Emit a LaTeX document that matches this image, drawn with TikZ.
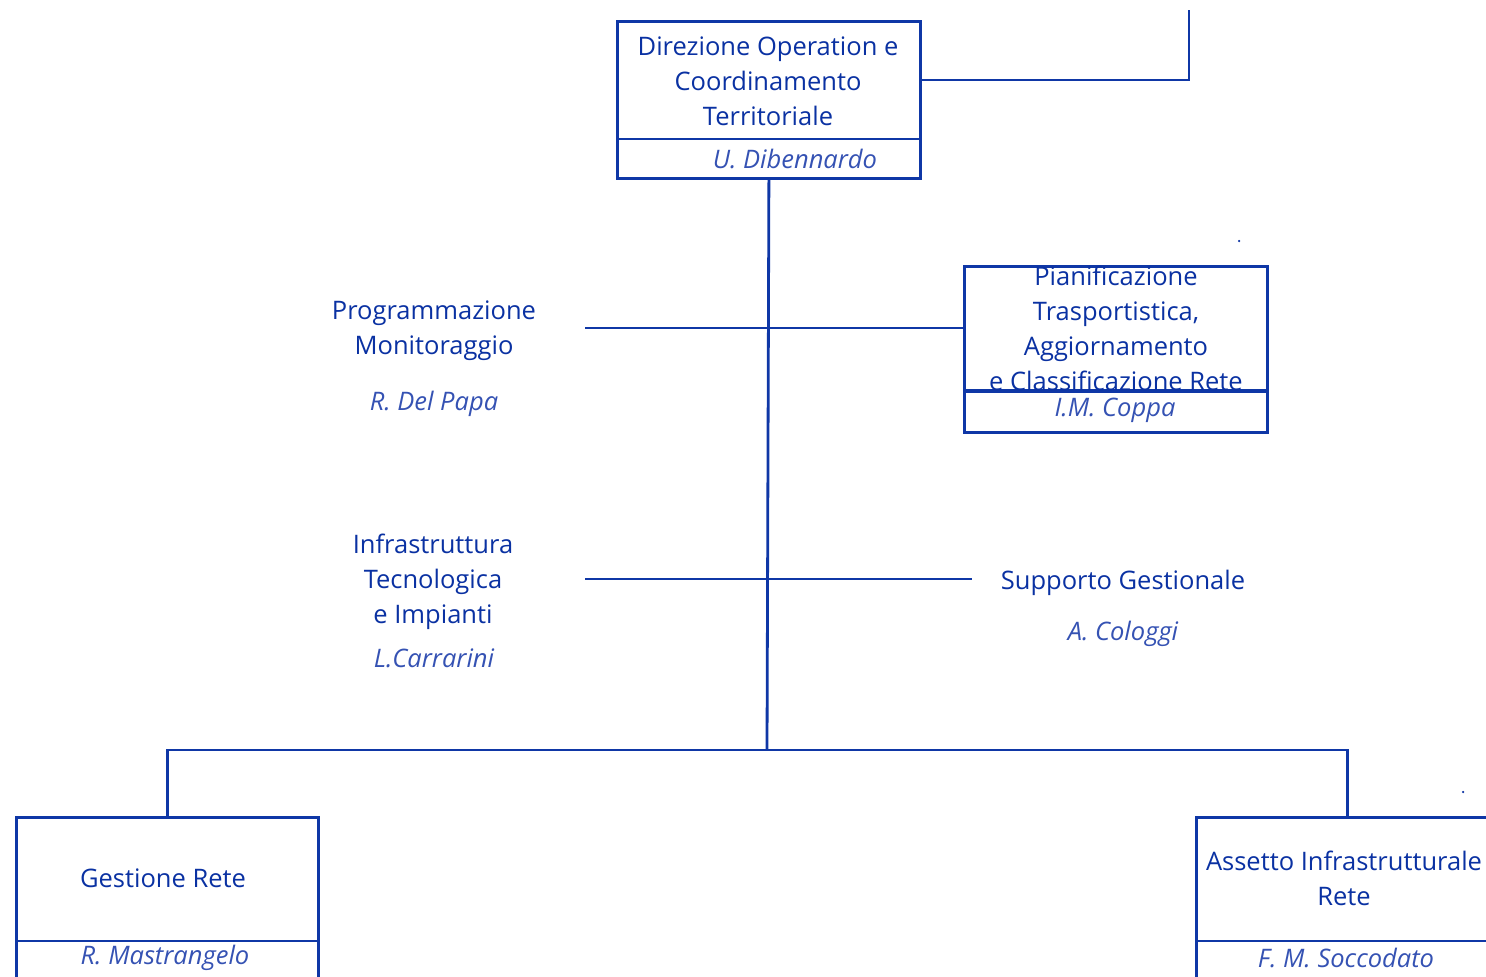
\documentclass[tikz,border=0pt]{standalone}
\usepackage{fontspec}
\setmainfont{Open Sans}
\definecolor{lineblue}{HTML}{0F37A6}
\definecolor{txtblue}{HTML}{0A31A2}
\definecolor{nameblue}{HTML}{3552B3}
\tikzset{
  box/.style={draw=lineblue, line width=2.8pt, inner sep=0pt, anchor=north west},
  conn/.style={draw=lineblue, line width=2.8pt},
  title/.style={text=txtblue, font=\fontsize{25.5}{35}\selectfont, align=center, inner sep=0pt},
  person/.style={text=nameblue, font=\fontsize{25.5}{35}\selectfont\itshape, inner sep=0pt},
  speck/.style={circle, fill=txtblue, inner sep=0pt, minimum size=2.5pt}
}
\begin{document}
\begin{tikzpicture}[x=1pt,y=-1pt]
\useasboundingbox (0,0) rectangle (1486,977);
\clip (0,0) rectangle (1486,977);
% boxes
\node[box, minimum width=303pt, minimum height=157pt] (dir) at (616,20) {};
\node[box, minimum width=303pt, minimum height=166pt] (pian) at (963,265) {};
\node[box, minimum width=302pt, minimum height=200pt] (ges) at (15,816) {};
\node[box, minimum width=302pt, minimum height=200pt] (ass) at (1195,816) {};
% dividers
\draw[conn] (dir.west |- 0,139) -- (dir.east |- 0,139);
\draw[conn, line width=3.3pt] (pian.west |- 0,391) -- (pian.east |- 0,391);
\draw[conn] (ges.west |- 0,941) -- (ges.east |- 0,941);
\draw[conn] (ass.west |- 0,941) -- (ass.east |- 0,941);
% coordinates
\coordinate (tr) at (1189,80);
\coordinate (tend) at (1189,10);
\coordinate (bus) at (767,750);
\coordinate (h1l) at (585,328);
\coordinate (h2l) at (585,579);
\coordinate (h2r) at (972,579);
% connectors
\draw[conn] (tr -| dir.east) -- (tr) -- (tend);
\draw[conn] (dir.south) -- (bus);
\draw[conn] (h1l) -- (pian.west |- h1l);
\draw[conn] (h2l) -- (h2r);
\draw[conn] (ges.north) -- (ges.north |- bus) -- (ass.north |- bus) -- (ass.north);
% texts
\node[title] (dirT) at (768,81) {Direzione Operation e\\Coordinamento\\Territoriale};
\node[title] (pianT) at (1116,328) {Pianificazione\\Trasportistica,\\Aggiornamento\\e Classificazione Rete};
\node[title] (progT) at (434,331) {Programmazione\\Monitoraggio};
\node[title] (infT) at (433,582) {Infrastruttura\\Tecnologica\\e Impianti};
\node[title] (supT) at (1123,583) {Supporto Gestionale};
\node[title] (gesT) at (163,878) {Gestione Rete};
\node[title] (assT) at (1344,878) {Assetto Infrastrutturale\\Rete};
\node[person] (dirN) at (795,159) {U. Dibennardo};
\node[person] (pianN) at (1115,410) {I.M. Coppa};
\node[person] (progN) at (434,404) {R. Del Papa};
\node[person] (infN) at (434,658) {L.Carrarini};
\node[person] (supN) at (1123,634) {A. Cologgi};
\node[person] (gesN) at (165,958) {R. Mastrangelo};
\node[person] (assN) at (1346,958) {F. M. Soccodato};
\node[speck] (s1) at (1239,241) {};
\node[speck] (s2) at (1463,792) {};
\end{tikzpicture}
\end{document}
